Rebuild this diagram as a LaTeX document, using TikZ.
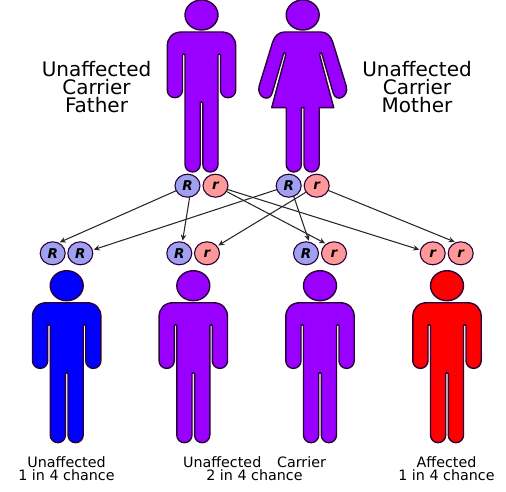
\documentclass[tikz,border=0pt]{standalone}
\usepackage{fontspec}
\setmainfont{DejaVu Sans}
\usetikzlibrary{shapes.geometric,arrows.meta}
\definecolor{violetfig}{HTML}{9900FF}
\definecolor{bluefig}{HTML}{0000FF}
\definecolor{redfig}{HTML}{FF0000}
\definecolor{outlinefig}{HTML}{2A0038}
\definecolor{allR}{HTML}{A0A0F0}
\definecolor{allr}{HTML}{FF9999}
\tikzset{
  x=1pt,y=-1pt,
  figline/.style={draw=outlinefig,line width=1.4pt,line join=round,pic actions},
  allele/.style={ellipse,draw=outlinefig,line width=1.1pt,minimum width=25pt,minimum height=23pt,inner sep=0pt,font=\fontsize{13.5}{13.5}\selectfont\bfseries\itshape},
  bigR/.style={allele,fill=allR},
  smallr/.style={allele,fill=allr},
  inherit/.style={draw=black!85,line width=1.05pt,-{Stealth[length=6pt,width=5.5pt]},shorten <=-1pt,shorten >=1pt},
  biglabel/.style={align=center,font=\fontsize{20}{18}\selectfont,inner sep=0pt},
  smalllabel/.style={align=center,font=\fontsize{14.3}{13}\selectfont,inner sep=0pt},
  manfig/.pic={
    \path[figline] (0,15) ellipse [x radius=16.5,y radius=15];
    \path[figline] (-20,32) -- (20,32) .. controls (29,32) and (34.2,38) .. (34.2,46)
      -- (34.2,90.1) arc (0:180:7.6) -- (19,55) arc (0:-180:1.25)
      -- (16.5,164.4) arc (0:180:7.6) -- (1.3,103) arc (0:-180:1.3)
      -- (-1.3,164.4) arc (0:180:7.6) -- (-16.5,55) arc (0:-180:1.25)
      -- (-19,90.1) arc (0:180:7.6) -- (-34.2,46)
      .. controls (-34.2,38) and (-29,32) .. (-20,32) -- cycle;
  },
  womanfig/.pic={
    \path[figline] (0,15) ellipse [x radius=16.5,y radius=15];
    \path[figline] (-18,32) -- (18,32) .. controls (24,32) and (28,36) .. (30,42)
      -- (43.5,86) .. controls (46.5,97) and (33.5,103) .. (30.5,93)
      -- (19.5,55) .. controls (19,52) and (17,52) .. (17,55)
      -- (31,107.7) -- (16.5,107.7) -- (16.5,164.4) arc (0:180:7.6)
      -- (1.3,107.7) -- (-1.3,107.7) -- (-1.3,164.4) arc (0:180:7.6)
      -- (-16.5,107.7) -- (-31,107.7) -- (-17,55)
      .. controls (-17,52) and (-19,52) .. (-19.5,55)
      -- (-30.5,93) .. controls (-33.5,103) and (-46.5,97) .. (-43.5,86)
      -- (-30,42) .. controls (-28,36) and (-24,32) .. (-18,32) -- cycle;
  },
}
\begin{document}
\begin{tikzpicture}
\useasboundingbox (0,0) rectangle (506,492);
% figures
\pic[fill=violetfig] at (201.5,0) {manfig};
\pic[fill=violetfig] at (302.7,0) {womanfig};
\pic[fill=bluefig] at (66.7,270.7) {manfig};
\pic[fill=violetfig] at (193.3,270.7) {manfig};
\pic[fill=violetfig] at (320,270.7) {manfig};
\pic[fill=redfig] at (447,270.7) {manfig};
% parents' alleles
\node[bigR] (fR) at (187.5,185.7) {R};
\node[smallr] (fr) at (215.5,185.7) {r};
\node[bigR] (mR) at (288.7,185.7) {R};
\node[smallr] (mr) at (316.7,185.7) {r};
% children's alleles
\node[bigR] (aone) at (52.7,253.3) {R};
\node[bigR] (atwo) at (80.3,253.3) {R};
\node[bigR] (bone) at (179.3,253.3) {R};
\node[smallr] (btwo) at (207,253.3) {r};
\node[bigR] (cone) at (306,253.3) {R};
\node[smallr] (ctwo) at (334,253.3) {r};
\node[smallr] (done) at (432.7,253.3) {r};
\node[smallr] (dtwo) at (460.7,253.3) {r};
% inheritance
\draw[inherit] (fR) -- (aone.60);
\draw[inherit] (fR.-80) -- (bone.75);
\draw[inherit] (fr) -- (ctwo.130);
\draw[inherit] (fr) -- (done.165);
\draw[inherit] (mR) -- (atwo.15);
\draw[inherit] (mR.-65) -- (cone.75);
\draw[inherit] (mr) -- (btwo.35);
\draw[inherit] (mr) -- (dtwo.115);
% labels
\node[biglabel] (lf) at (96.5,87) {Unaffected\\Carrier\\Father};
\node[biglabel] (lm) at (417,87) {Unaffected\\Carrier\\Mother};
\node[smalllabel] (la) at (66.5,468.5) {Unaffected\\1 in 4 chance};
\node[smalllabel] (lb) at (254.5,468.5) {Unaffected\hspace{1.1em}Carrier\\2 in 4 chance};
\node[smalllabel] (lc) at (446.5,468.5) {Affected\\1 in 4 chance};
\end{tikzpicture}
\end{document}
